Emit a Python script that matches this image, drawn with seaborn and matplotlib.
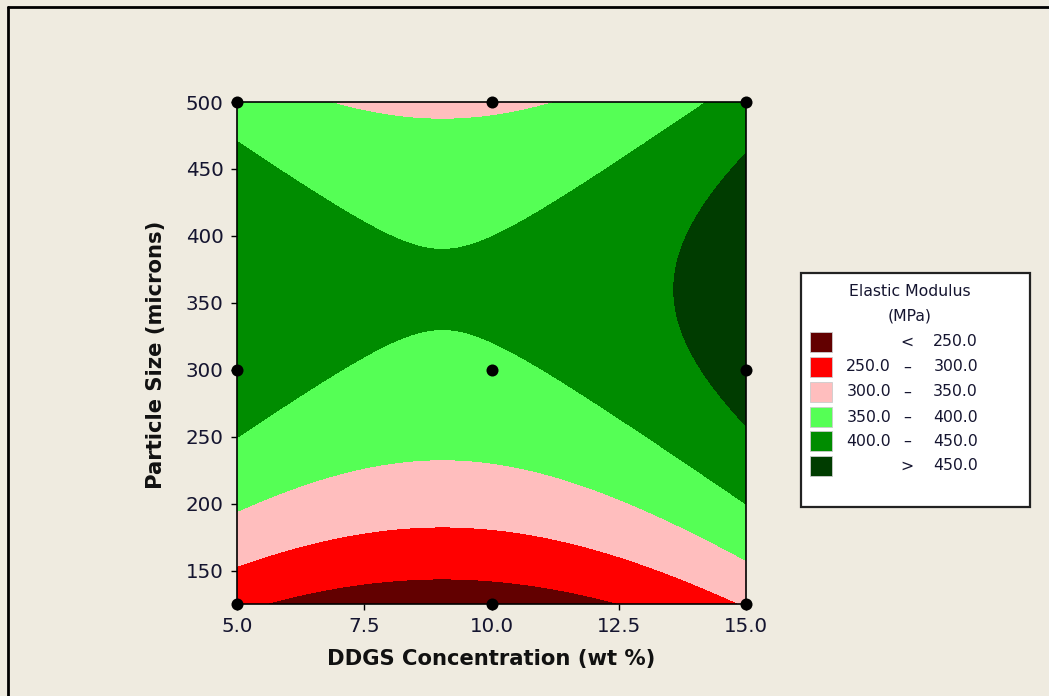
import numpy as np
import pandas as pd
import matplotlib
matplotlib.use("Agg")
import matplotlib.pyplot as plt
from matplotlib.patches import Rectangle
from matplotlib.lines import Line2D
import seaborn as sns

# ---- data: design points (DDGS wt %, particle size microns) and measured modulus ----
ddgs_levels = [5.0, 10.0, 15.0]
size_levels = [125.0, 300.0, 500.0]
modulus_125 = [259.4, 224.5, 303.4]
modulus_300 = [428.2, 393.3, 472.2]
modulus_500 = [375.8, 340.9, 419.8]

contour_levels = [250.0, 300.0, 350.0, 400.0, 450.0]
band_colors = ["#620000", "#FF0000", "#FFBEBE", "#55FF55", "#008C00", "#003C00"]
x_ticks = [5.0, 7.5, 10.0, 12.5, 15.0]
y_ticks = [150, 200, 250, 300, 350, 400, 450, 500]

title_lines = ["Elastic Modulus", "(MPa)"]
xlabel = "DDGS Concentration (wt %)"
ylabel = "Particle Size (microns)"

# ---- build table of design points ----
rows = []
for yv, zs in zip(size_levels, [modulus_125, modulus_300, modulus_500]):
    for xv, zv in zip(ddgs_levels, zs):
        rows.append({"ddgs": xv, "size": yv, "modulus": zv})
df = pd.DataFrame(rows)

# ---- full quadratic response-surface fit (coded units) ----
xc, xh = 10.0, 5.0
yc, yh = 312.5, 187.5
def design(x, y):
    u = (np.asarray(x) - xc) / xh
    v = (np.asarray(y) - yc) / yh
    return np.column_stack([np.ones_like(u), u, v, u * u, v * v, u * v])
coef, *_ = np.linalg.lstsq(design(df["ddgs"], df["size"]), df["modulus"].to_numpy(), rcond=None)

gx = np.linspace(5, 15, 400)
gy = np.linspace(125, 500, 400)
GX, GY = np.meshgrid(gx, gy)
Z = (design(GX.ravel(), GY.ravel()) @ coef).reshape(GX.shape)

# ---- figure ----
bg = "#EFEBE0"
sns.set_style("ticks")
plt.rcParams["font.family"] = ["DejaVu Sans"]
W, H = 1049, 696
fig = plt.figure(figsize=(W / 100, H / 100), dpi=100, facecolor=bg)
fx = lambda px: px / W
fy = lambda py: 1 - py / H

ax = fig.add_axes([fx(237), fy(604), (746 - 237) / W, (604 - 102) / H])
ax.set_facecolor(bg)

bounds = [-1e4] + contour_levels + [1e4]
ax.contourf(GX, GY, Z, levels=bounds, colors=band_colors, antialiased=False)

sns.scatterplot(data=df, x="ddgs", y="size", ax=ax, color="black", s=75,
                edgecolor="black", linewidth=0, clip_on=False, zorder=10, legend=False)

ax.set_xlim(5, 15)
ax.set_ylim(125, 500)
ax.set_xticks(x_ticks)
ax.set_xticklabels([f"{t:.1f}" for t in x_ticks])
ax.set_yticks(y_ticks)
ax.set_yticklabels([str(t) for t in y_ticks])
ax.tick_params(axis="both", direction="out", length=4.5, width=1, color="black",
               labelsize=14.3, labelcolor="#151530")
ax.tick_params(axis="x", pad=5)
ax.tick_params(axis="y", pad=5)
for s in ax.spines.values():
    s.set_visible(True)
    s.set_color("black")
    s.set_linewidth(1.2)

ax.set_xlabel(xlabel, fontsize=15.2, fontweight="bold", va="center", color="#111111")
ax.xaxis.set_label_coords(0.5, (604 - 659) / (604 - 102))
ax.set_ylabel(ylabel, fontsize=15.2, fontweight="bold", va="center", color="#111111")
ax.yaxis.set_label_coords((156 - 237) / (746 - 237), (604 - 355) / (604 - 102))

# ---- outer frame lines (left & top) ----
fig.add_artist(Line2D([fx(8), fx(8)], [fy(7), 0], transform=fig.transFigure, color="black", lw=2))
fig.add_artist(Line2D([fx(8), 1], [fy(7), fy(7)], transform=fig.transFigure, color="black", lw=2))

# ---- legend box ----
fs_leg = 11.3
fig.add_artist(Rectangle((fx(801), fy(507)), (1030 - 801) / W, (507 - 273) / H,
                         transform=fig.transFigure, facecolor="white", edgecolor="#222222", lw=1.6))
fig.text(fx(910), fy(291), title_lines[0], ha="center", va="center", fontsize=fs_leg, color="#151530")
fig.text(fx(910), fy(316), title_lines[1], ha="center", va="center", fontsize=fs_leg, color="#151530")

row_y = [342, 367, 392, 417, 441, 466]
labels = []
labels.append(("", "<", f"{contour_levels[0]:.1f}"))
for lo, hi in zip(contour_levels[:-1], contour_levels[1:]):
    labels.append((f"{lo:.1f}", "\u2013", f"{hi:.1f}"))
labels.append(("", ">", f"{contour_levels[-1]:.1f}"))
for ry, col, (a, b, c) in zip(row_y, band_colors, labels):
    fig.add_artist(Rectangle((fx(810), fy(ry + 10)), 22 / W, 20 / H, transform=fig.transFigure,
                             facecolor=col, edgecolor="#cccccc", lw=0.6))
    if a:
        fig.text(fx(891), fy(ry), a, ha="right", va="center", fontsize=fs_leg, color="#151530")
    fig.text(fx(907), fy(ry), b, ha="center", va="center", fontsize=fs_leg, color="#151530")
    fig.text(fx(978), fy(ry), c, ha="right", va="center", fontsize=fs_leg, color="#151530")

fig.savefig("out.png", dpi=100, facecolor=bg)
